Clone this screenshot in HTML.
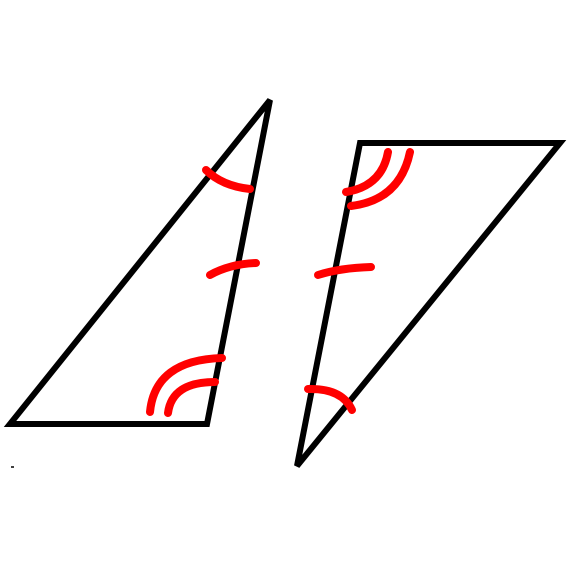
<!DOCTYPE html>
<html><head><meta charset="utf-8"><style>
html,body{margin:0;padding:0;background:#fff;width:570px;height:570px;overflow:hidden}
</style></head><body>
<svg width="570" height="570" viewBox="0 0 570 570">
<g fill="none" stroke="#000" stroke-width="6" stroke-linejoin="miter">
<polygon points="10,424 207,424 270,100"/>
<polygon points="360,143 560,143 297,466"/>
</g>
<line x1="11" y1="467" x2="14" y2="467" stroke="#000" stroke-width="1.5"/>
<g fill="none" stroke="#f00" stroke-width="8" stroke-linecap="round">
<path d="M206,170 Q222,186 250,189"/>
<path d="M210,275 Q230,264 256,263"/>
<path d="M150,412 Q155,360 222,358"/>
<path d="M168,413 Q172,382 215,382"/>
<path d="M346,192 Q382,186 388,152"/>
<path d="M351,206 Q400,200 410,152"/>
<path d="M318,275 Q340,268 371,267"/>
<path d="M308,389 Q342,388 352,410"/>
</g>
</svg>
</body></html>
